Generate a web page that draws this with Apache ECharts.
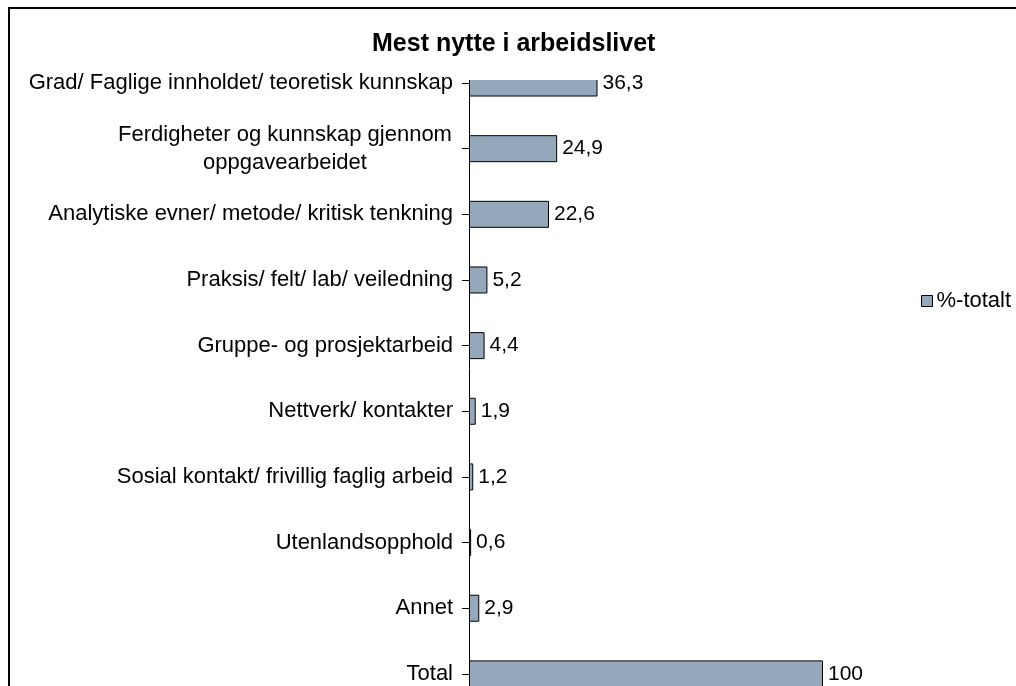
<!DOCTYPE html>
<html>
<head>
<meta charset="utf-8">
<script src="https://cdn.jsdelivr.net/npm/echarts@6/dist/echarts.min.js"></script>
<style>
html,body{margin:0;padding:0;background:#fff;}
#chart{width:1016px;height:686px;}
</style>
</head>
<body>
<div id="chart"></div>
<script>
var titleText = 'Mest nytte i arbeidslivet';
var seriesName = '%-totalt';
var categories = [
  'Grad/ Faglige innholdet/ teoretisk kunnskap',
  'Ferdigheter og kunnskap gjennom\noppgavearbeidet',
  'Analytiske evner/ metode/ kritisk tenkning',
  'Praksis/ felt/ lab/ veiledning',
  'Gruppe- og prosjektarbeid',
  'Nettverk/ kontakter',
  'Sosial kontakt/ frivillig faglig arbeid',
  'Utenlandsopphold',
  'Annet',
  'Total'
];
var values = [36.3, 24.9, 22.6, 5.2, 4.4, 1.9, 1.2, 0.6, 2.9, 100];

var FONT = "'Liberation Sans', Arial, sans-serif";
var chart = echarts.init(document.getElementById('chart'), null, {renderer: 'canvas'});
chart.setOption({
  animation: false,
  backgroundColor: '#ffffff',
  textStyle: {fontFamily: FONT},
  title: {
    text: titleText,
    left: 372,
    top: 32,
    padding: 0,
    z: 20,
    textStyle: {fontFamily: FONT, fontSize: 25, fontWeight: 'bold', color: '#000'}
  },
  legend: {
    data: [seriesName],
    left: 921,
    top: 290,
    padding: 0,
    icon: 'rect',
    itemWidth: 11,
    itemHeight: 11,
    itemGap: 4,
    itemStyle: {borderColor: '#000', borderWidth: 1},
    textStyle: {fontFamily: FONT, fontSize: 22, color: '#000', lineHeight: 22, padding: [0,0,0,-1]}
  },
  grid: {left: 469, top: 50.2, width: 354, height: 656.5, containLabel: false, outerBoundsMode: 'none'},
  xAxis: {type: 'value', min: 0, max: 100, show: false},
  yAxis: {
    type: 'category',
    inverse: true,
    data: categories,
    boundaryGap: true,
    axisLine: {show: true, lineStyle: {color: '#000', width: 1}},
    axisTick: {show: true, alignWithLabel: true, length: 7, lineStyle: {color: '#000'}},
    splitLine: {show: false},
    axisLabel: {
      interval: 0,
      margin: 16,
      color: '#000',
      fontFamily: FONT,
      fontSize: 22,
      formatter: function (v) {
        if (v.indexOf('\n') >= 0) {
          return v.split('\n').map(function (s) { return '{c|' + s + '}'; }).join('\n');
        }
        return v;
      },
      rich: {
        c: {fontFamily: FONT, fontSize: 22, color: '#000', width: 336, align: 'center', lineHeight: 28}
      }
    }
  },
  series: [{
    name: seriesName,
    type: 'bar',
    data: values,
    barWidth: 27,
    z: 2,
    itemStyle: {color: '#95A7BB', borderColor: '#000', borderWidth: 1},
    label: {
      show: true,
      position: 'right',
      distance: 5,
      color: '#000',
      fontFamily: FONT,
      fontSize: 21,
      formatter: function (p) { return String(p.value).replace('.', ','); }
    }
  }],
  graphic: [
    {
      type: 'rect',
      z: 15,
      shape: {x: 463, y: 46, width: 137, height: 34},
      style: {fill: '#ffffff', stroke: null}
    },
    {
      type: 'rect',
      z: 30,
      shape: {x: 9, y: 8, width: 1100, height: 800},
      style: {fill: null, stroke: '#000', lineWidth: 2}
    }
  ]
});
</script>
</body>
</html>
